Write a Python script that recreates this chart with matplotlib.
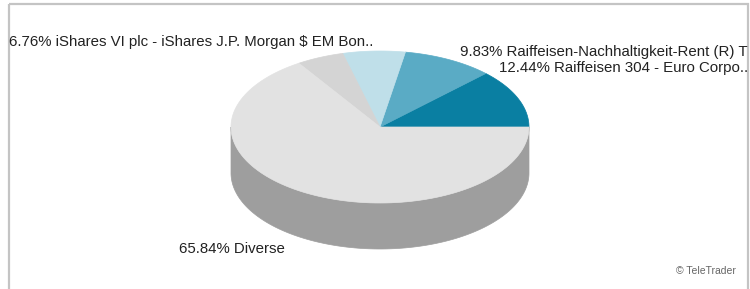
import numpy as np
import matplotlib
matplotlib.use("Agg")
from matplotlib import pyplot as plt
from matplotlib.patches import Polygon, Rectangle

# data
shares = [12.44, 9.83, 6.76, 5.13, 65.84]
names = ["Raiffeisen 304 - Euro Corpo..",
         "Raiffeisen-Nachhaltigkeit-Rent (R) T",
         "iShares VI plc - iShares J.P. Morgan $ EM Bon..",
         "",
         "Diverse"]
top_colors = ["#0a7fa2", "#5aabc5", "#bfdfe9", "#d4d4d4", "#e2e2e2"]
side_colors = ["#066680", "#478aa0", "#98b3bb", "#a8a8a8", "#9e9e9e"]

# layout (pixels)
cx, cy = 380, 127
rx, ry = 149, 76
depth = 46
label_pos = [(748, 68, "right"), (748, 52, "right"), (373, 42, "right"),
             None, (179, 249, "left")]

plt.rcParams["font.family"] = ["Liberation Sans", "DejaVu Sans"]

fig = plt.figure(figsize=(7.5, 2.89), dpi=100)
ax = fig.add_axes([0, 0, 1, 1])
ax.set_xlim(0, 750)
ax.set_ylim(289, 0)
ax.axis("off")

frame = Rectangle((9, 4), 739, 300, fill=False, edgecolor="#c4c4c4", lw=1.6)
ax.add_patch(frame)


def arc(a, b, dy=0):
    t = np.radians(np.linspace(a, b, 120))
    return np.column_stack([cx + rx * np.cos(t), cy - ry * np.sin(t) + dy])


edges = np.concatenate([[0], np.cumsum(shares)]) / sum(shares) * 360

# side walls (only the front half is visible)
for i in range(len(shares)):
    a, b = max(edges[i], 180), min(edges[i + 1], 360)
    if b <= a:
        continue
    pts = np.vstack([arc(a, b), arc(a, b, depth)[::-1]])
    ax.add_patch(Polygon(pts, closed=True, facecolor=side_colors[i],
                         edgecolor=side_colors[i], lw=0.5))

# top faces
for i in range(len(shares)):
    pts = np.vstack([[cx, cy], arc(edges[i], edges[i + 1])])
    ax.add_patch(Polygon(pts, closed=True, facecolor=top_colors[i],
                         edgecolor=top_colors[i], lw=0.5))

for v, n, pos in zip(shares, names, label_pos):
    if pos is None:
        continue
    x, y, ha = pos
    t = ax.text(x, y, f"{v:.2f}% {n}", ha=ha, va="center", fontsize=10.8,
                color="#222222")
    t.set_clip_path(frame)

ax.text(736, 271, "\u00a9 TeleTrader", ha="right", va="center", fontsize=7.5,
        color="#666666")

fig.savefig("out.png", dpi=100)
